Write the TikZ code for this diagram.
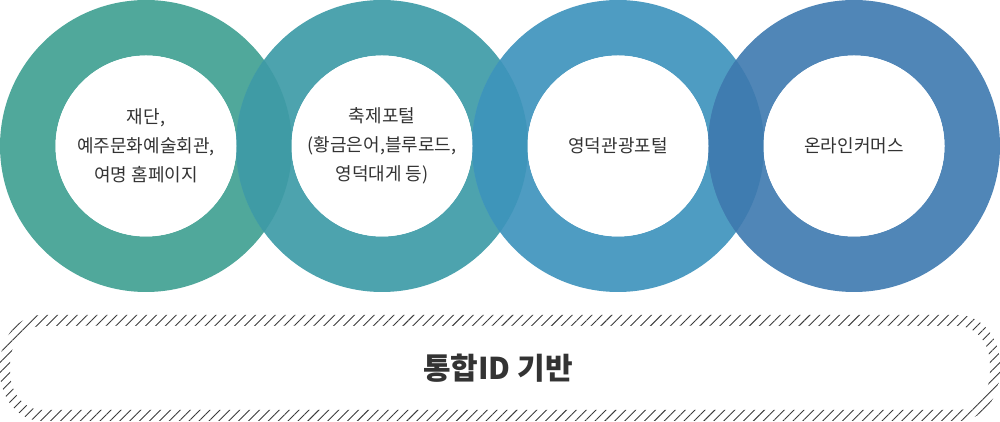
\documentclass[tikz,border=0pt]{standalone}
\usepackage{fontspec}
\setmainfont{Noto Sans CJK KR}
\usetikzlibrary{patterns.meta}
\definecolor{ringA}{HTML}{50A89B}
\definecolor{ringB}{HTML}{4DA3AE}
\definecolor{ringC}{HTML}{4E9CC2}
\definecolor{ringD}{HTML}{5086B7}
\definecolor{lensAB}{HTML}{3F9BA5}
\definecolor{lensBC}{HTML}{3E95BA}
\definecolor{lensCD}{HTML}{3F7CB0}
\definecolor{txt}{HTML}{333333}
\definecolor{hatch}{HTML}{3A3A3A}
\tikzset{
  ringfill/.style={fill=#1, even odd rule},
  hole/.style={circle, fill=white, minimum size=181pt, inner sep=0pt, align=center,
    text=txt, font=\fontsize{18}{29}\selectfont},
  title/.style={text=txt, font=\fontsize{30}{34}\selectfont\bfseries, inner sep=0pt}
}
\begin{document}
\begin{tikzpicture}[x=1pt,y=1pt]
\useasboundingbox (0,0) rectangle (1000,422);
\coordinate (cA) at (146,276);
\coordinate (cB) at (382,276);
\coordinate (cC) at (618,276);
\coordinate (cD) at (854,276);
% rings
\fill[ringfill=ringA] (cA) circle (146) (cA) circle (90.5);
\fill[ringfill=ringB] (cB) circle (146) (cB) circle (90.5);
\fill[ringfill=ringC] (cC) circle (146) (cC) circle (90.5);
\fill[ringfill=ringD] (cD) circle (146) (cD) circle (90.5);
% overlaps
\begin{scope}
  \clip (cA) circle (146);
  \fill[lensAB] (cB) circle (146);
\end{scope}
\begin{scope}
  \clip (cB) circle (146);
  \fill[lensBC] (cC) circle (146);
\end{scope}
\begin{scope}
  \clip (cC) circle (146);
  \fill[lensCD] (cD) circle (146);
\end{scope}
% holes with text
\node[hole] (tA) at (cA) {재단,\\예주문화예술회관,\\여명 홈페이지};
\node[hole] (tB) at (cB) {축제포털\\(황금은어,블루로드,\\영덕대게 등)};
\node[hole] (tC) at (cC) {영덕관광포털};
\node[hole] (tD) at (cD) {온라인커머스};
% hatched band
\fill[pattern={Lines[angle=45,distance=7pt,line width=0.9pt]}, pattern color=hatch, even odd rule]
  (42,107) -- (958,107) arc[start angle=90,end angle=0,x radius=42,y radius=50]
  -- (1000,51) arc[start angle=0,end angle=-90,x radius=42,y radius=50]
  -- (42,1) arc[start angle=270,end angle=180,x radius=42,y radius=50]
  -- (0,57) arc[start angle=180,end angle=90,x radius=42,y radius=50] -- cycle
  (42,96) -- (958,96) arc[start angle=90,end angle=0,x radius=32,y radius=38]
  -- (990,50) arc[start angle=0,end angle=-90,x radius=32,y radius=38]
  -- (42,12) arc[start angle=270,end angle=180,x radius=32,y radius=38]
  -- (10,58) arc[start angle=180,end angle=90,x radius=32,y radius=38] -- cycle;
\node[title] (base) at (498,54) {통합ID 기반};
\end{tikzpicture}
\end{document}
